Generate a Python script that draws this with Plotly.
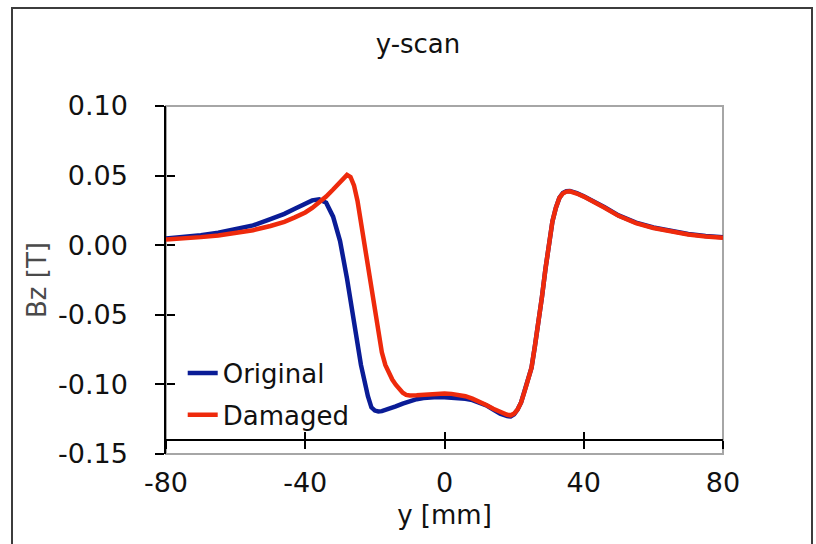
import plotly.graph_objects as go

# Bz measured along a y-scan, original vs damaged sample
y_orig = [-80, -75, -70, -65, -60, -55, -50, -46, -43, -40, -38, -36, -34, -32, -30,
          -28, -26, -24, -22, -21, -20, -19, -18, -16, -14, -12, -10, -8, -6, -4, -2,
          0, 2, 4, 6, 8, 10, 12, 14, 16, 18, 19, 20, 21, 22, 23, 24, 25, 26, 27, 28,
          29, 30, 31, 32, 33, 34, 35, 36, 37, 38, 40, 43, 46, 50, 55, 60, 65, 70, 75, 80]
bz_orig = [0.0048, 0.0058, 0.0072, 0.0090, 0.0113, 0.0142, 0.0188, 0.0225, 0.0262, 0.0300,
           0.0322, 0.0330, 0.0305, 0.0205, 0.0030, -0.0240, -0.0540, -0.0860, -0.1085,
           -0.1165, -0.1188, -0.1195, -0.1192, -0.1178, -0.1158, -0.1138, -0.1120, -0.1106,
           -0.1098, -0.1093, -0.1091, -0.1092, -0.1094, -0.1097, -0.1103, -0.1113, -0.1128,
           -0.1150, -0.1180, -0.1210, -0.1228, -0.1230, -0.1215, -0.1180, -0.1130, -0.1050,
           -0.0970, -0.0880, -0.0720, -0.0560, -0.0370, -0.0170, 0.0020, 0.0170, 0.0270,
           0.0340, 0.0375, 0.0388, 0.0390, 0.0385, 0.0374, 0.0352, 0.0314, 0.0272, 0.0214,
           0.0162, 0.0127, 0.0102, 0.0080, 0.0066, 0.0057]

y_dmg = [-80, -75, -70, -65, -60, -55, -50, -46, -43, -40, -38, -36, -34, -32, -30, -29,
         -28, -27, -26, -25, -24, -23, -22, -21, -20, -19, -18, -17, -16, -15, -14, -13,
         -12, -11, -10, -8, -6, -4, -2, 0, 2, 4, 6, 8, 10, 12, 14, 16, 18, 19, 20, 21, 22,
         23, 24, 25, 26, 27, 28, 29, 30, 31, 32, 33, 34, 35, 36, 37, 38, 40, 43, 46, 50,
         55, 60, 65, 70, 75, 80]
bz_dmg = [0.0040, 0.0047, 0.0058, 0.0070, 0.0086, 0.0108, 0.0138, 0.0168, 0.0200, 0.0235,
          0.0268, 0.0308, 0.0350, 0.0400, 0.0450, 0.0480, 0.0505, 0.0490, 0.0430, 0.0320,
          0.0160, 0.0000, -0.0170, -0.0330, -0.0500, -0.0640, -0.0770, -0.0860, -0.0920,
          -0.0965, -0.1002, -0.1035, -0.1060, -0.1075, -0.1080, -0.1078, -0.1073, -0.1068,
          -0.1063, -0.1065, -0.1068, -0.1073, -0.1085, -0.1102, -0.1122, -0.1148, -0.1175,
          -0.1200, -0.1218, -0.1222, -0.1210, -0.1180, -0.1130, -0.1050, -0.0970, -0.0880,
          -0.0720, -0.0560, -0.0370, -0.0170, 0.0020, 0.0170, 0.0270, 0.0340, 0.0372,
          0.0385, 0.0387, 0.0382, 0.0371, 0.0349, 0.0311, 0.0269, 0.0211, 0.0159, 0.0124,
          0.0099, 0.0077, 0.0063, 0.0054]

x_ticks = [-80, -40, 0, 40, 80]
x_tick_text = ["-80", "-40", "0", "40", "80"]
y_ticks = [0.10, 0.05, 0.00, -0.05, -0.10, -0.15]
y_tick_text = ["0.10", "0.05", "0.00", "-0.05", "-0.10", "-0.15"]
x_range = [-80, 80]
y_range = [-0.15, 0.10]
x_axis_cross = -0.14

FONT = "DejaVu Sans"
TEXT = "#111111"
BLUE = "#0a1c96"
RED = "#ee2a0c"

fig = go.Figure()
fig.add_trace(go.Scatter(x=y_orig, y=bz_orig, mode="lines", name="Original",
                         legendgroup="a", line=dict(color=BLUE, width=4.5)))
fig.add_trace(go.Scatter(x=y_dmg, y=bz_dmg, mode="lines", name="Damaged",
                         legendgroup="b", line=dict(color=RED, width=4.5)))
# empty traces that keep the crossing-tick overlay axes alive
fig.add_trace(go.Scatter(x=[], y=[], xaxis="x2", yaxis="y2", showlegend=False,
                         hoverinfo="skip"))
fig.add_trace(go.Scatter(x=[], y=[], xaxis="x3", yaxis="y3", showlegend=False,
                         hoverinfo="skip"))

pos = (x_axis_cross - y_range[0]) / (y_range[1] - y_range[0])

fig.update_layout(
    width=816, height=544,
    margin=dict(l=166, r=93, t=106, b=90),
    paper_bgcolor="white", plot_bgcolor="white",
    font=dict(family=FONT, size=27, color=TEXT),
    title=dict(text="y-scan", x=418 / 816, xref="container", xanchor="center",
               y=1 - 44 / 544, yref="container", yanchor="middle",
               font=dict(family=FONT, size=26, color=TEXT)),
    showlegend=True,
    legend=dict(x=0.03, y=0.30, xanchor="left", yanchor="top",
                bgcolor="rgba(0,0,0,0)", tracegroupgap=5,
                font=dict(family=FONT, size=26, color=TEXT)),
    xaxis=dict(range=x_range, tickvals=x_ticks, ticktext=x_tick_text,
               showgrid=False, zeroline=False, showline=False, ticks="",
               ticklabelstandoff=10,
               title=dict(text="y [mm]", standoff=8,
                          font=dict(family=FONT, size=26, color=TEXT))),
    yaxis=dict(range=y_range, tickvals=y_ticks, ticktext=y_tick_text,
               showgrid=False, zeroline=False, showline=True, linecolor="black",
               linewidth=1.5, ticks="outside", ticklen=9, tickcolor="black",
               tickwidth=1.5, ticklabelstandoff=22,
               title=dict(text="Bz [T]", standoff=4,
                          font=dict(family=FONT, size=26, color="#4a4a4a"))),
    # x axis line crossing the value axis at -0.14, ticks on both sides
    xaxis2=dict(range=x_range, overlaying="x", anchor="free", position=pos,
                tickvals=x_ticks, showticklabels=False, showgrid=False, zeroline=False,
                showline=True, linecolor="black", linewidth=1.5,
                ticks="outside", ticklen=8, tickcolor="black", tickwidth=1.5),
    xaxis3=dict(range=x_range, overlaying="x", anchor="free", position=pos,
                tickvals=x_ticks, showticklabels=False, showgrid=False, zeroline=False,
                showline=False, ticks="inside", ticklen=8, tickcolor="black",
                tickwidth=1.5),
    yaxis2=dict(range=y_range, overlaying="y", anchor="free", position=0,
                tickvals=y_ticks, showticklabels=False, showgrid=False, zeroline=False,
                showline=False, ticks="", side="left"),
    yaxis3=dict(range=y_range, overlaying="y", anchor="free", position=0,
                tickvals=y_ticks, showticklabels=False, showgrid=False, zeroline=False,
                showline=False, ticks="inside", ticklen=8, tickcolor="black",
                tickwidth=1.5, side="left"),
)

# plot-area frame
fig.add_shape(type="rect", xref="paper", yref="paper", x0=0, y0=0, x1=1, y1=1,
              line=dict(color="#a6a6a6", width=2), layer="below")
# chart-area frame
fig.add_shape(type="rect", xref="paper", yref="paper",
              x0=(12 - 166) / 557, x1=(812 - 166) / 557,
              y0=(454 - 570) / 348, y1=(454 - 8) / 348,
              line=dict(color="#3c3c3c", width=2))

fig.write_html("out.html")
